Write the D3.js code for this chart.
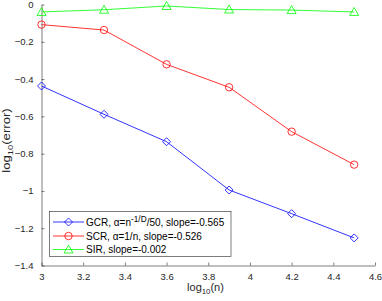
<!DOCTYPE html>
<html>
<head>
<meta charset="utf-8">
<script src="https://cdn.jsdelivr.net/npm/d3@7"></script>
<style>
  body { margin: 0; background: #fff; }
  text { font-family: "Liberation Sans", Arial, sans-serif; }
</style>
</head>
<body>
<svg id="chart" width="382" height="301"></svg>
<script>
var logN = [3, 3.3, 3.6, 3.9, 4.2, 4.5];
var gcr = [-0.437, -0.589, -0.736, -0.995, -1.122, -1.252];
var scr = [-0.108, -0.137, -0.321, -0.444, -0.682, -0.859];
var sir = [-0.040, -0.028, -0.008, -0.027, -0.030, -0.040];
var xTicks = [3, 3.2, 3.4, 3.6, 3.8, 4, 4.2, 4.4, 4.6];
var yTicks = [0, -0.2, -0.4, -0.6, -0.8, -1, -1.2, -1.4];

var svg = d3.select("#chart");
var x = d3.scaleLinear().domain([3, 4.6]).range([41.5, 375]);
var y = d3.scaleLinear().domain([-1.4, 0]).range([265.5, 4.5]);

var series = [
  { name: "GCR", vals: gcr, color: "#0000ff", marker: "diamond" },
  { name: "SCR", vals: scr, color: "#ff0000", marker: "circle" },
  { name: "SIR", vals: sir, color: "#00ff00", marker: "triangle" }
];

// axes (inner ticks, no box)
var xAxis = svg.append("g")
  .attr("transform", "translate(0," + y(-1.4) + ")")
  .call(d3.axisBottom(x).tickValues(xTicks).tickSizeInner(-3).tickSizeOuter(0)
    .tickPadding(8).tickFormat(d3.format("")));
var yAxis = svg.append("g")
  .attr("transform", "translate(" + x(3) + ",0)")
  .call(d3.axisLeft(y).tickValues(yTicks).tickSizeInner(-3).tickSizeOuter(0)
    .tickPadding(8).tickFormat(function(d) { return d === 0 ? "0" : d3.format("")(d); }));
[xAxis, yAxis].forEach(function(a) {
  a.select(".domain").attr("stroke", "#262626").attr("stroke-width", 0.6);
  a.selectAll(".tick line").attr("stroke", "#262626").attr("stroke-width", 0.6);
  a.selectAll(".tick text").attr("fill", "#262626").attr("font-size", "9.5px")
    .attr("font-family", "Liberation Sans, Arial, sans-serif");
});

function markerPath(type, size) {
  if (type === "diamond") return "M0,-" + size + "L" + size + ",0L0," + size + "L-" + size + ",0Z";
  if (type === "triangle") return "M0,-" + (size + 0.5) + "L" + (size + 0.5) + "," + (size - 0.5) + "L-" + (size + 0.5) + "," + (size - 0.5) + "Z";
  return null;
}

function drawMarker(g, type, color, cx, cy) {
  if (type === "circle") {
    g.append("circle").attr("cx", cx).attr("cy", cy).attr("r", 3.7)
      .attr("fill", "none").attr("stroke", color).attr("stroke-width", 0.8);
  } else {
    g.append("path").attr("d", markerPath(type, 4))
      .attr("transform", "translate(" + cx + "," + cy + ")")
      .attr("fill", "none").attr("stroke", color).attr("stroke-width", 0.8);
  }
}

var line = d3.line().x(function(d, i) { return x(logN[i]); }).y(function(d) { return y(d); });

series.forEach(function(s) {
  var g = svg.append("g");
  g.append("path").datum(s.vals).attr("d", line)
    .attr("fill", "none").attr("stroke", s.color).attr("stroke-width", 0.8);
  s.vals.forEach(function(v, i) { drawMarker(g, s.marker, s.color, x(logN[i]), y(v)); });
});

// axis labels (y label is stretched along its baseline in the original)
var yl = svg.append("text").attr("transform", "translate(10,140.5) rotate(-90) scale(1.25,1)")
  .attr("text-anchor", "middle").attr("font-size", "10.5px").attr("fill", "#262626");
yl.append("tspan").text("log");
yl.append("tspan").attr("font-size", "7.5px").attr("dy", 3).text("10");
yl.append("tspan").attr("dy", -3).text("(error)");

var xl = svg.append("text").attr("x", 205.5).attr("y", 291)
  .attr("text-anchor", "middle").attr("font-size", "11px").attr("fill", "#262626");
xl.append("tspan").text("log");
xl.append("tspan").attr("font-size", "7.8px").attr("dy", 3).text("10");
xl.append("tspan").attr("dy", -3).text("(n)");

// legend
var leg = svg.append("g");
leg.append("rect").attr("x", 49.5).attr("y", 211.5).attr("width", 181.5).attr("height", 45)
  .attr("fill", "#fff").attr("stroke", "#262626").attr("stroke-width", 0.6);
var legY = [222, 236, 249.5];
series.forEach(function(s, i) {
  leg.append("line").attr("x1", 53).attr("x2", 84).attr("y1", legY[i]).attr("y2", legY[i])
    .attr("stroke", s.color).attr("stroke-width", 0.8);
  drawMarker(leg, s.marker, s.color, 68.5, legY[i]);
  var t = leg.append("text").attr("x", 86).attr("y", legY[i] + 3.5)
    .attr("font-size", "10px").attr("fill", "#000");
  if (s.name === "GCR") {
    t.append("tspan").text("GCR, α=n");
    t.append("tspan").attr("font-size", "8.3px").attr("dy", -4).text("-1/D");
    t.append("tspan").attr("dy", 4).text("/50, slope=-0.565");
  } else if (s.name === "SCR") {
    t.text("SCR, α=1/n, slope=-0.526");
  } else {
    t.text("SIR, slope=-0.002");
  }
});
</script>
</body>
</html>
